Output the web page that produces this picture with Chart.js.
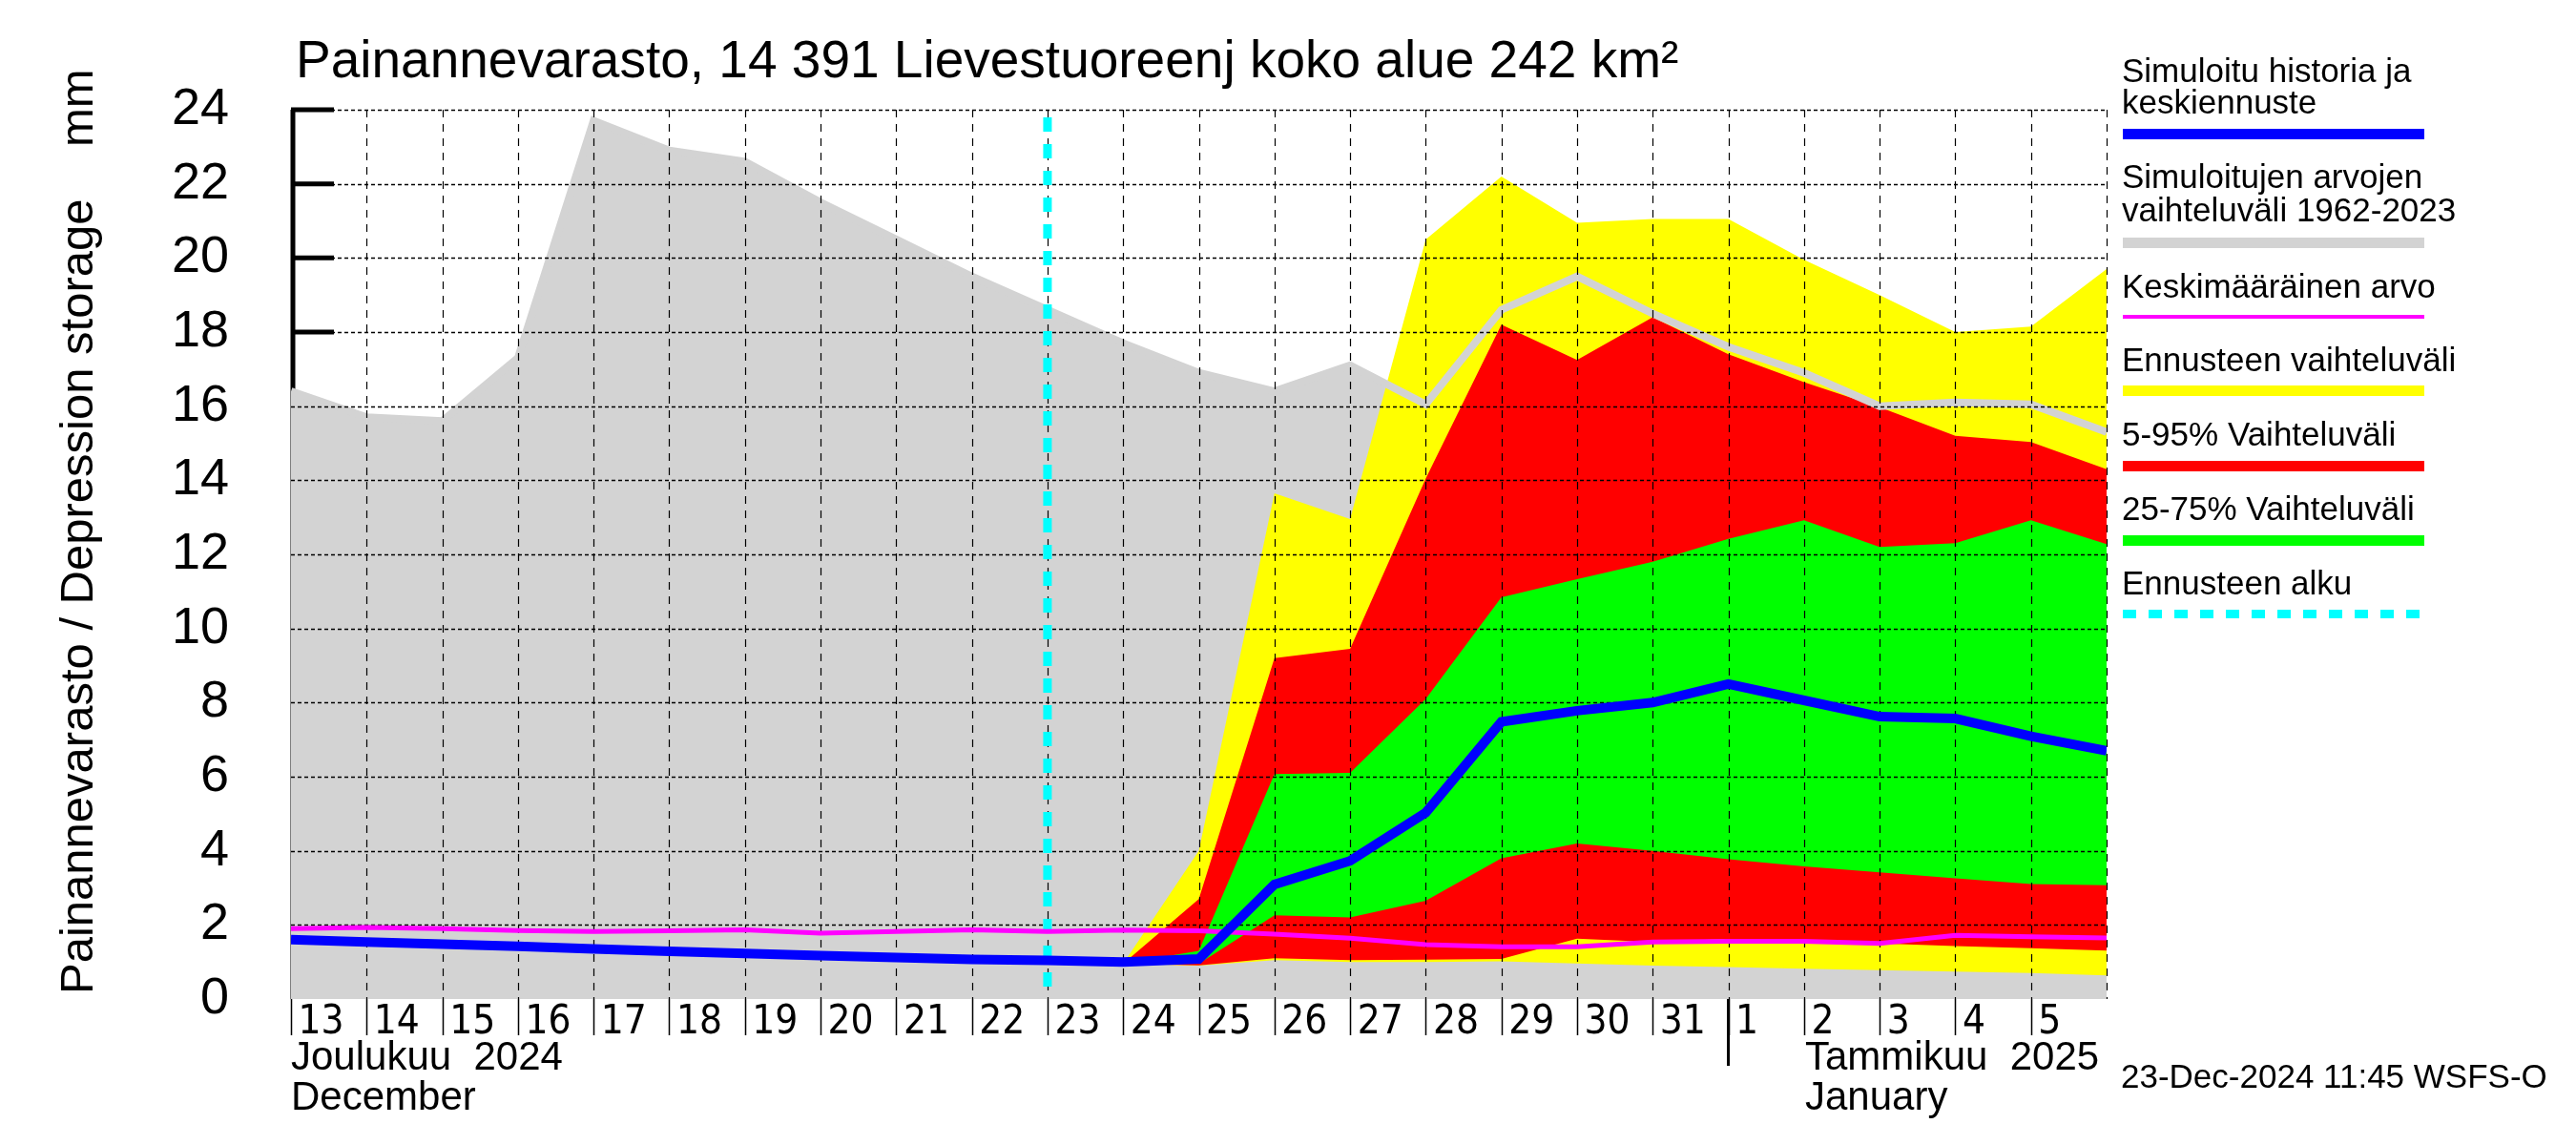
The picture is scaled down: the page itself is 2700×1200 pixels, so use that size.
<!DOCTYPE html>
<html>
<head>
<meta charset="utf-8">
<script src="https://cdn.jsdelivr.net/npm/chart.js@4.4.1/dist/chart.umd.min.js"></script>
<style>
  body { margin: 0; background: #fff; }
  #wrap { position: relative; width: 2700px; height: 1200px; font-family: "Liberation Sans", Arial, sans-serif; color: #000; }
  #wrap canvas { position: absolute; left: 0; top: 0; }
  .txt { position: absolute; white-space: pre; line-height: 1; }
  .bar { position: absolute; left: 2225px; width: 316px; }
</style>
</head>
<body>
<div id="wrap">
  <canvas id="grafico" width="2700" height="1200"></canvas>

  <div class="txt" style="left:310px; top:35px; font-size:55px;">Painannevarasto, 14 391 Lievestuoreenj koko alue 242 km²</div>
  <div class="txt" style="left:56px; top:1042px; font-size:49px; transform-origin:0 0; transform:rotate(-90deg);">Painannevarasto / Depression storage    mm</div>

  <div class="txt" style="left:305px; top:1086px; font-size:42px;">Joulukuu  2024</div>
  <div class="txt" style="left:305px; top:1128px; font-size:42px;">December</div>
  <div class="txt" style="left:1892px; top:1086px; font-size:42px;">Tammikuu  2025</div>
  <div class="txt" style="left:1892px; top:1128px; font-size:42px;">January</div>
  <div class="txt" style="left:2223px; top:1110px; font-size:35px;">23-Dec-2024 11:45 WSFS-O</div>

  <div class="txt" style="left:2224px; top:56px; font-size:35px;">Simuloitu historia ja</div>
  <div class="txt" style="left:2224px; top:89px; font-size:35px;">keskiennuste</div>
  <div class="bar" style="top:135px; height:11px; background:#0000ff;"></div>
  <div class="txt" style="left:2224px; top:167px; font-size:35px;">Simuloitujen arvojen</div>
  <div class="txt" style="left:2224px; top:202px; font-size:35px;">vaihteluväli 1962-2023</div>
  <div class="bar" style="top:249px; height:11px; background:#d3d3d3;"></div>
  <div class="txt" style="left:2224px; top:282px; font-size:35px;">Keskimääräinen arvo</div>
  <div class="bar" style="top:330px; height:4px; background:#ff00ff;"></div>
  <div class="txt" style="left:2224px; top:359px; font-size:35px;">Ennusteen vaihteluväli</div>
  <div class="bar" style="top:404px; height:11px; background:#ffff00;"></div>
  <div class="txt" style="left:2224px; top:437px; font-size:35px;">5-95% Vaihteluväli</div>
  <div class="bar" style="top:483px; height:11px; background:#ff0000;"></div>
  <div class="txt" style="left:2224px; top:515px; font-size:35px;">25-75% Vaihteluväli</div>
  <div class="bar" style="top:561px; height:11px; background:#00ff00;"></div>
  <div class="txt" style="left:2224px; top:593px; font-size:35px;">Ennusteen alku</div>
  <div class="bar" style="top:639px; height:9px; background:repeating-linear-gradient(90deg, #00ffff 0 14px, transparent 14px 27px);"></div>
</div>

<script>
// x = päivä alkaen 13.12.2024 (0) ... 6.1.2025 (24)
const paivat = ["13", "14", "15", "16", "17", "18", "19", "20", "21", "22", "23", "24",
    "25", "26", "27", "28", "29", "30", "31", "1", "2", "3", "4", "5"];

const historiaMax = [16.4, 15.7, 15.6, 17.3, 23.7, 22.9, 22.6, 21.5, 20.5, 19.5, 18.6, 17.7,
    16.9, 16.4, 17.1, 16.05, 18.6, 19.5, 18.5, 17.6, 16.9, 16.0, 16.1, 16.05, 15.3];

const keskiarvo = [1.9, 1.93, 1.9, 1.85, 1.82, 1.84, 1.87, 1.78, 1.82, 1.87, 1.82, 1.86,
    1.84, 1.75, 1.64, 1.47, 1.41, 1.41, 1.54, 1.56, 1.56, 1.5, 1.72, 1.68, 1.65];

const keskiennuste = [1.6, 1.54, 1.48, 1.42, 1.35, 1.29, 1.23, 1.17, 1.12, 1.07, 1.04, 1.0,
    1.08, 3.09, 3.73, 5.03, 7.48, 7.78, 8.0, 8.5, 8.06, 7.62, 7.57, 7.09, 6.7];

// ennusteen vaihteluvälit alkavat 24.12. (x = 11)
const ennusteAlkuX = 11;
const ennusteMax = [0.95, 4.0, 13.65, 12.95, 20.5, 22.2, 20.95, 21.05, 21.05, 19.95, 19.0, 18.0, 18.15, 19.7];
const ennusteMin = [0.95, 0.9, 1.05, 1.0, 1.0, 1.02, 0.96, 0.9, 0.86, 0.82, 0.78, 0.74, 0.7, 0.64];
const p95 = [0.95, 2.7, 9.2, 9.45, 14.05, 18.2, 17.25, 18.4, 17.4, 16.65, 15.97, 15.2, 15.03, 14.3];
const p05 = [0.95, 0.91, 1.1, 1.05, 1.06, 1.08, 1.63, 1.54, 1.62, 1.58, 1.5, 1.43, 1.37, 1.31];
const p75 = [0.95, 1.3, 6.07, 6.1, 8.1, 10.84, 11.33, 11.8, 12.42, 12.92, 12.2, 12.3, 12.92, 12.28];
const p25 = [0.95, 0.95, 2.26, 2.2, 2.65, 3.8, 4.2, 4.0, 3.77, 3.58, 3.42, 3.26, 3.1, 3.07];

const yTicks = [0, 2, 4, 6, 8, 10, 12, 14, 16, 18, 20, 22, 24];
const ennusteenAlku = 10;      // 23.12.
const kuukausiVaihtuu = 19;    // 1.1.

const pisteet = (arr, alku = 0) => arr.map((y, i) => ({ x: alku + i, y: y }));

function viiva(data, vari, leveys) {
    return { data: data, borderColor: vari, borderWidth: leveys, fill: false, pointRadius: 0, tension: 0 };
}

function alue(data, vari, fill) {
    return { data: data, borderColor: "rgba(0,0,0,0)", borderWidth: 1, backgroundColor: vari, fill: fill, pointRadius: 0, tension: 0 };
}

const lisat = {
    id: "lisat",
    beforeDatasetsDraw(chart) {
        const { ctx, chartArea: a, scales: { y } } = chart;
        ctx.save();
        ctx.strokeStyle = "#000";
        ctx.lineWidth = 5;
        ctx.beginPath();
        ctx.moveTo(a.left + 2, a.top);
        ctx.lineTo(a.left + 2, a.bottom);
        yTicks.forEach(v => {
            if (v === 0) return;
            const py = y.getPixelForValue(v);
            ctx.moveTo(a.left, py);
            ctx.lineTo(a.left + 45, py);
        });
        ctx.stroke();
        ctx.restore();
    },
    beforeDatasetDraw(chart, args) {
        if (args.index !== 1) return;
        const { ctx, chartArea: a, scales: { x, y } } = chart;
        ctx.save();
        ctx.strokeStyle = "#000";
        ctx.lineWidth = 1.5;
        ctx.setLineDash([4, 3]);
        ctx.beginPath();
        yTicks.forEach(v => {
            if (v === 0) return;
            const py = Math.round(y.getPixelForValue(v)) + 0.5;
            ctx.moveTo(a.left, py);
            ctx.lineTo(a.right, py);
        });
        ctx.stroke();
        ctx.lineWidth = 1.2;
        ctx.setLineDash([8, 7]);
        ctx.beginPath();
        for (let d = 1; d <= 24; d++) {
            const px = Math.round(x.getPixelForValue(d)) + 0.5;
            ctx.moveTo(px, a.top);
            ctx.lineTo(px, a.bottom);
        }
        ctx.stroke();

        const fx = x.getPixelForValue(ennusteenAlku);
        ctx.strokeStyle = "#00ffff";
        ctx.lineWidth = 9;
        ctx.setLineDash([15, 13]);
        ctx.beginPath();
        ctx.moveTo(fx, a.top + 8);
        ctx.lineTo(fx, a.bottom);
        ctx.stroke();
        ctx.restore();
    },
    afterDraw(chart) {
        const { ctx, chartArea: a, scales: { x } } = chart;
        ctx.save();
        ctx.strokeStyle = "#000";
        ctx.lineWidth = 1.5;
        ctx.beginPath();
        paivat.forEach((p, i) => {
            const px = Math.round(x.getPixelForValue(i)) + 0.5;
            ctx.moveTo(px, a.bottom);
            ctx.lineTo(px, a.bottom + 38);
        });
        ctx.stroke();
        const sx = x.getPixelForValue(kuukausiVaihtuu);
        ctx.lineWidth = 3;
        ctx.beginPath();
        ctx.moveTo(sx, a.bottom);
        ctx.lineTo(sx, a.bottom + 70);
        ctx.stroke();
        ctx.restore();
    }
};

new Chart(document.getElementById("grafico"), {
    type: "line",
    data: {
        datasets: [
            viiva(pisteet(keskiennuste), "#0000ff", 10),
            viiva(pisteet(keskiarvo), "#ff00ff", 5),
            viiva(pisteet(historiaMax), "#d3d3d3", 8),
            alue(pisteet(p75, ennusteAlkuX), "#00ff00", "+1"),
            alue(pisteet(p25, ennusteAlkuX), "rgba(0,0,0,0)", false),
            alue(pisteet(p95, ennusteAlkuX), "#ff0000", "+1"),
            alue(pisteet(p05, ennusteAlkuX), "rgba(0,0,0,0)", false),
            alue(pisteet(ennusteMax, ennusteAlkuX), "#ffff00", "+1"),
            alue(pisteet(ennusteMin, ennusteAlkuX), "rgba(0,0,0,0)", false),
            alue(pisteet(historiaMax), "#d3d3d3", "origin")
        ]
    },
    options: {
        responsive: false,
        devicePixelRatio: 1,
        animation: false,
        layout: { padding: { top: 115, right: 492, left: 0, bottom: 0 } },
        plugins: { legend: { display: false }, tooltip: { enabled: false } },
        scales: {
            x: {
                type: "linear",
                min: 0,
                max: 24,
                grid: { display: false, drawTicks: false },
                border: { display: false },
                ticks: {
                    stepSize: 1,
                    autoSkip: false,
                    maxRotation: 0,
                    align: "start",
                    padding: 0,
                    color: "#000",
                    font: { family: "'Liberation Sans Narrow', 'DejaVu Sans Condensed', Arial", size: 42 },
                    callback: v => paivat[v] !== undefined ? "\u2009" + paivat[v] : ""
                },
                afterFit: s => { s.height = 153; }
            },
            y: {
                min: 0,
                max: 24,
                grid: { display: false, drawTicks: false },
                border: { display: false },
                ticks: {
                    stepSize: 2,
                    padding: 65,
                    color: "#000",
                    font: { family: "'Liberation Sans', Arial", size: 54 }
                },
                afterFit: s => { s.width = 305; }
            }
        }
    },
    plugins: [lisat]
});
</script>
</body>
</html>
